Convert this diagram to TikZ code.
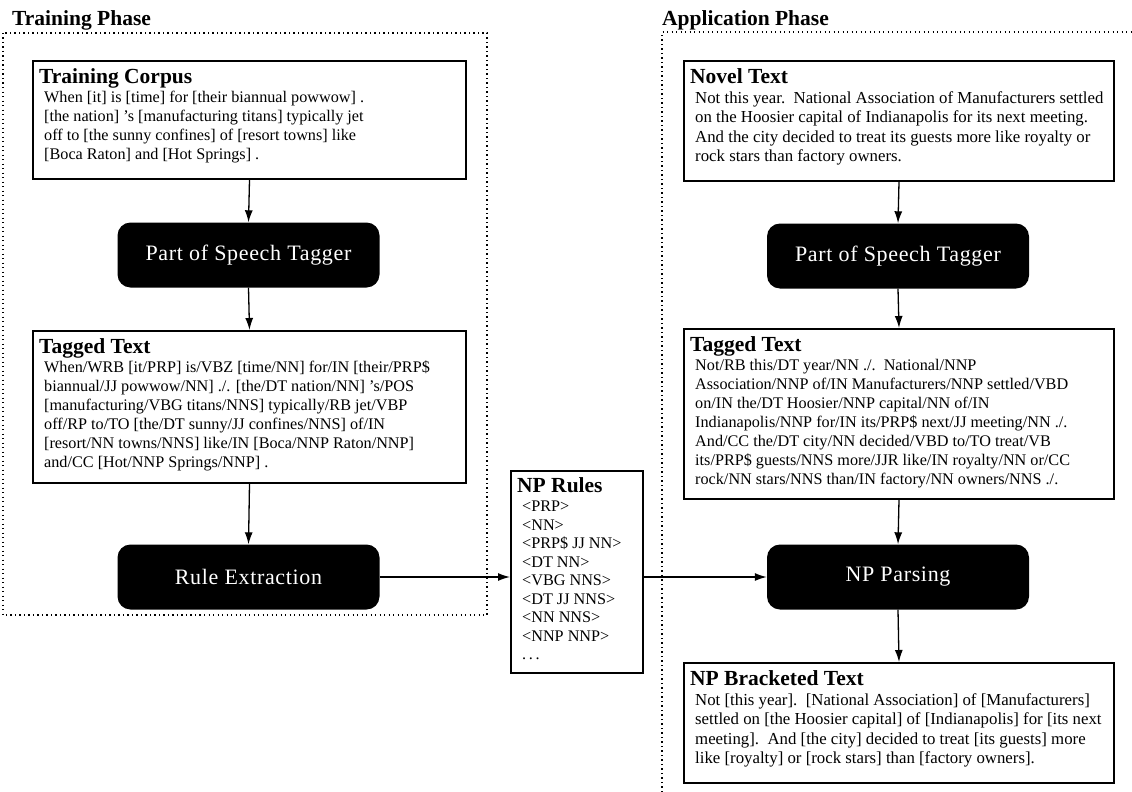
\documentclass[tikz,border=0pt]{standalone}
\usepackage{fontspec}
\setmainfont{Liberation Serif}
\usetikzlibrary{arrows.meta}
\begin{document}
\begin{tikzpicture}[x=1pt,y=-1pt,
  tbox/.style={draw, line width=2pt, inner sep=0pt, anchor=north west},
  ttl/.style={anchor=base west, inner sep=0pt, font=\fontsize{21.5}{24}\selectfont\bfseries},
  body/.style={anchor=north west, inner sep=0pt, align=left, font=\fontsize{16.2}{19}\selectfont},
  bodywide/.style={anchor=north west, inner sep=0pt, align=left, font=\fontsize{16.8}{19.5}\selectfont},
  proc/.style={fill=black, text=white, rounded corners=13pt, minimum width=262pt, minimum height=65pt, inner sep=0pt, font=\fontsize{22}{26}\selectfont\addfontfeature{LetterSpace=3}},
  arr/.style={-{Latex[length=12pt,width=8pt]}, line width=1.3pt},
  frame/.style={line width=1.2pt, dash pattern=on 1.2pt off 3.3pt}
]
\useasboundingbox (0,0) rectangle (1132,792);

% phase frames
\draw[frame] (3,33) rectangle (487,615);
\draw[frame] (662,792) -- (662,32) -- (1132,32);
\node[ttl] (tphase) at (12,26) {Training Phase};
\node[ttl] (aphase) at (662,26) {Application Phase};

% ---- training column ----
\node[tbox, minimum width=433pt, minimum height=118pt] (corpus) at (32,60) {};
\node[ttl] (corpusT) at ([xshift=7pt,yshift=-23pt]corpus.north west) {Training Corpus};
\node[body] (corpusB) at ([xshift=12pt,yshift=-31pt]corpus.north west) {When [it] is [time] for [their biannual powwow] .\\{}[the nation] 's [manufacturing titans] typically jet\\off to [the sunny confines] of [resort towns] like\\{}[Boca Raton] and [Hot Springs] .};

\node[proc] (posL) at (248.5,255) {Part of Speech Tagger};

\node[tbox, minimum width=433pt, minimum height=152pt] (tagL) at (32,330) {};
\node[ttl] (tagLT) at ([xshift=7pt,yshift=-23pt]tagL.north west) {Tagged Text};
\node[body] (tagLB) at ([xshift=12pt,yshift=-31pt]tagL.north west) {When/WRB [it/PRP] is/VBZ [time/NN] for/IN [their/PRP\$\\biannual/JJ powwow/NN] ./. [the/DT nation/NN] 's/POS\\{}[manufacturing/VBG titans/NNS] typically/RB jet/VBP\\off/RP to/TO [the/DT sunny/JJ confines/NNS] of/IN\\{}[resort/NN towns/NNS] like/IN [Boca/NNP Raton/NNP]\\and/CC [Hot/NNP Springs/NNP] .};

\node[proc] (rulex) at (248.5,577) {Rule Extraction};

% ---- rules ----
\node[tbox, minimum width=132pt, minimum height=202pt] (rules) at (510,470) {};
\node[ttl] (rulesT) at ([xshift=7pt,yshift=-22pt]rules.north west) {NP Rules};
\node[body, font=\fontsize{16.2}{18.5}\selectfont] (rulesB) at ([xshift=12pt,yshift=-31pt]rules.north west) {<PRP>\\<NN>\\<PRP\$ JJ NN>\\<DT NN>\\<VBG NNS>\\<DT JJ NNS>\\<NN NNS>\\<NNP NNP>\\.\,.\,.};

% ---- application column ----
\node[tbox, minimum width=430pt, minimum height=120pt] (novel) at (683,60) {};
\node[ttl] (novelT) at ([xshift=7pt,yshift=-23pt]novel.north west) {Novel Text};
\node[bodywide] (novelB) at ([xshift=12pt,yshift=-31pt]novel.north west) {Not this year.\ \ National Association of Manufacturers settled\\on the Hoosier capital of Indianapolis for its next meeting.\\And the city decided to treat its guests more like royalty or\\rock stars than factory owners.};

\node[proc] (posR) at (898,256) {Part of Speech Tagger};

\node[tbox, minimum width=430pt, minimum height=170pt] (tagR) at (683,328) {};
\node[ttl] (tagRT) at ([xshift=7pt,yshift=-23pt]tagR.north west) {Tagged Text};
\node[body] (tagRB) at ([xshift=12pt,yshift=-31pt]tagR.north west) {Not/RB this/DT year/NN ./.\ \ National/NNP\\Association/NNP of/IN Manufacturers/NNP settled/VBD\\on/IN the/DT Hoosier/NNP capital/NN of/IN\\Indianapolis/NNP for/IN its/PRP\$ next/JJ meeting/NN ./.\\And/CC the/DT city/NN decided/VBD to/TO treat/VB\\its/PRP\$ guests/NNS more/JJR like/IN royalty/NN or/CC\\rock/NN stars/NNS than/IN factory/NN owners/NNS ./.};

\node[proc] (parse) at (898,577) {NP Parsing};

\node[tbox, minimum width=430pt, minimum height=120pt] (brack) at (683,662) {};
\node[ttl] (brackT) at ([xshift=7pt,yshift=-23pt]brack.north west) {NP Bracketed Text};
\node[bodywide] (brackB) at ([xshift=12pt,yshift=-31pt]brack.north west) {Not [this year].\ \ [National Association] of [Manufacturers]\\settled on [the Hoosier capital] of [Indianapolis] for [its next\\meeting].\ \ And [the city] decided to treat [its guests] more\\like [royalty] or [rock stars] than [factory owners].};

% ---- connectors ----
\draw[arr] (corpus.south) -- (posL.north);
\draw[arr] (posL.south) -- (tagL.north);
\draw[arr] (tagL.south) -- (rulex.north);
\draw[arr] (rulex.east) -- (rulex.east -| rules.west);
\draw[arr] (rules.east |- parse.west) -- (parse.west);
\draw[arr] (novel.south) -- (posR.north);
\draw[arr] (posR.south) -- (tagR.north);
\draw[arr] (tagR.south) -- (parse.north);
\draw[arr] (parse.south) -- (brack.north);
\end{tikzpicture}
\end{document}
